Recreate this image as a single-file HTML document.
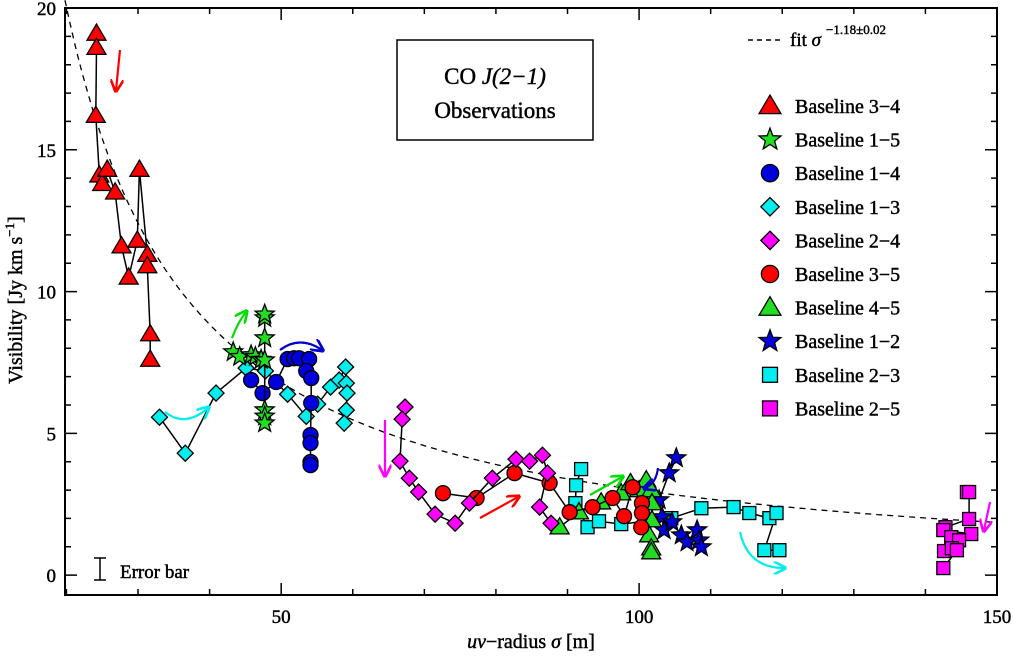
<!DOCTYPE html>
<html><head><meta charset="utf-8"><style>
body{margin:0;background:#fff}
svg{display:block;font-family:"Liberation Serif",serif}
.tx{stroke:#000;stroke-width:0.45}
</style></head><body>
<svg id="chart" width="1014" height="656" viewBox="0 0 1014 656">
<defs>
<marker id="ah" viewBox="0 0 10 10" refX="8" refY="5" markerWidth="6" markerHeight="6" orient="auto-start-reverse"><path d="M0,0 L10,5 L0,10" fill="none" stroke="context-stroke" stroke-width="2"/></marker>
</defs>
<g id="marks"></g>
<rect x="65" y="8" width="932" height="587" fill="none" stroke="#000" stroke-width="2"/>
<g id="axes" class="tx"></g>
<g>
<rect x="397" y="40" width="196" height="100" fill="#fff" stroke="#000" stroke-width="1.5"/>
<text class="tx" x="495" y="84" text-anchor="middle" font-size="23">CO <tspan font-style="italic">J(2−1)</tspan></text>
<text class="tx" x="495" y="118" text-anchor="middle" font-size="23">Observations</text>
</g>
<g>
<line x1="748" y1="40" x2="782" y2="40" stroke="#000" stroke-width="1.5" stroke-dasharray="5,4"/>
<text class="tx" x="790" y="46" font-size="19">fit <tspan font-style="italic">σ</tspan></text>
<text class="tx" x="826" y="34" font-size="13">−1.18±0.02</text>
</g>
<g>
<line x1="100" y1="558" x2="100" y2="580" stroke="#000" stroke-width="1.5"/>
<line x1="94" y1="558" x2="106" y2="558" stroke="#000" stroke-width="1.5"/>
<line x1="94" y1="580" x2="106" y2="580" stroke="#000" stroke-width="1.5"/>
<text class="tx" x="120" y="578" font-size="19">Error bar</text>
</g>
<text class="tx" x="531" y="648" text-anchor="middle" font-size="20"><tspan font-style="italic">uv</tspan>−radius <tspan font-style="italic">σ</tspan> [m]</text>
<text class="tx" transform="translate(22,300) rotate(-90)" text-anchor="middle" font-size="20">Visibility [Jy km s<tspan font-size="13" dy="-8">−1</tspan><tspan dy="8">]</tspan></text>
<g id="legend"></g>
<g fill="none" stroke-width="2.2">
<path d="M120,50 L116,90" stroke="#f00" marker-end="url(#ah)"/>
<path d="M232,338 Q238,322 246,312" stroke="#0d0" marker-end="url(#ah)"/>
<path d="M280,350 Q300,335 322,350" stroke="#00c" marker-end="url(#ah)"/>
<path d="M165,412 Q185,428 208,408" stroke="#0ee" marker-end="url(#ah)"/>
<path d="M385,420 L385,475" stroke="#f0f" marker-end="url(#ah)"/>
<path d="M480,518 L518,497" stroke="#f00" marker-end="url(#ah)"/>
<path d="M590,495 L622,477" stroke="#0d0" marker-end="url(#ah)"/>
<path d="M658,468 Q656,484 645,488" stroke="#00c" marker-end="url(#ah)"/>
<path d="M740,532 Q748,568 784,568" stroke="#0ee" marker-end="url(#ah)"/>
<path d="M990,502 L984,530" stroke="#f0f" marker-end="url(#ah)"/>
</g>
</svg>
<script>
const xTicks=[50,100,150];
const yTicks=[0,5,10,15,20];
const fitA=687, fitExp=-1.18;
const names=["Baseline 3−4","Baseline 1−5","Baseline 1−4","Baseline 1−3","Baseline 2−4","Baseline 3−5","Baseline 4−5","Baseline 1−2","Baseline 2−3","Baseline 2−5"];
const colors=["#f00","#2d2","#00d","#0ee","#f0f","#f00","#2d2","#00d","#0ee","#f0f"];
const shapes=["tri","star","circ","diam","diam","circ","tri","star","sq","sq"];
const b34x=[24.2,24.2,24.1,24.6,25.0,25.7,26.8,27.7,28.7,29.9,30.2,31.3,31.3,31.7,31.7];
const b34y=[19.1,18.6,16.2,14.1,13.8,14.3,13.5,11.6,10.5,11.8,14.3,11.3,10.9,8.5,7.6];
const b15x=[43.3,44.2,45.8,46.4,47.2,47.7,47.7,47.7,47.7,47.7,47.7,47.7];
const b15y=[7.87,7.7,7.76,7.7,7.6,7.58,8.36,9.07,9.2,5.82,5.6,5.36];
const b14x=[45.8,47.4,49.3,50.9,51.8,52.5,53.9,53.5,54.2,54.2,54.1,54.1,54.1,54.1];
const b14y=[6.88,6.42,6.81,7.62,7.65,7.65,7.62,7.2,6.95,6.07,4.94,4.66,3.99,3.88];
const b13x=[33.0,36.6,40.9,45.1,47.8,50.9,53.5,55.1,56.9,58.1,59.0,59.1,59.2,59.1,58.8];
const b13y=[5.57,4.3,6.42,7.3,7.2,6.38,5.6,6.03,6.63,6.88,7.34,6.77,6.42,5.82,5.36];
const b24x=[67.3,66.9,66.6,67.9,69.2,71.5,74.3,76.3,79.5,82.8,84.7,86.5,87.2,86.1,87.7];
const b24y=[5.93,5.5,4.02,3.42,2.93,2.15,1.83,2.54,3.42,4.09,4.02,4.23,3.6,2.4,1.83];
const b35x=[72.6,77.3,82.6,87.5,90.3,93.5,96.3,97.9,99.1,100.4,100.4,100.3];
const b35y=[2.89,2.72,3.6,3.25,2.22,2.4,2.72,2.08,3.1,2.54,2.19,1.69];
const b45x=[88.9,91.6,94.7,97.5,98.8,100.0,101.0,101.7,101.8,101.8,101.4,101.7,101.7];
const b45y=[1.69,2.22,2.57,2.89,3.25,3.0,3.35,3.0,2.54,1.94,1.41,0.95,0.81];
const b12x=[105.2,104.2,102.8,103.2,103.5,104.6,105.9,106.7,108.1,108.4,108.7];
const b12y=[4.13,3.6,2.65,2.05,1.59,1.87,1.41,1.16,1.59,1.23,0.99];
const b23x=[91.9,91.2,91.1,92.8,94.4,97.5,104.5,108.7,113.2,115.4,118.2,119.2,117.5,119.6];
const b23y=[3.74,3.17,2.54,1.69,1.9,1.8,2.01,2.36,2.4,2.19,2.01,2.19,0.88,0.88];
const b25x=[145.8,146.1,146.1,142.8,142.5,146.4,143.6,144.7,142.6,143.7,144.4,142.5];
const b25y=[2.93,2.93,1.98,1.69,1.59,1.45,1.34,1.23,0.85,0.95,0.88,0.25];
const seriesX=[b34x,b15x,b14x,b13x,b24x,b35x,b45x,b12x,b23x,b25x];
const seriesY=[b34y,b15y,b14y,b13y,b24y,b35y,b45y,b12y,b23y,b25y];

const X0=19.8,X1=150,Y0=-0.7,Y1=20,L=65,R=997,T=8,B=595;
function sx(v){return L+(v-X0)/(X1-X0)*(R-L);}
function sy(v){return B-(v-Y0)/(Y1-Y0)*(B-T);}
const NS="http://www.w3.org/2000/svg";
function mk(tag,attrs,parent){const e=document.createElementNS(NS,tag);for(const k in attrs)e.setAttribute(k,attrs[k]);parent.appendChild(e);return e;}
const axes=document.getElementById('axes');
for(let v=20;v<=150;v+=10){const big=v%50===0;const x=sx(v);const len=big?12:6;
 const t=mk('path',{d:`M${x},${B}v${-len}M${x},${T}v${len}`,stroke:'#000','stroke-width':1.5},axes);
 
 }
xTicks.forEach(v=>{const t=mk('text',{x:sx(v),y:623,'text-anchor':'middle','font-size':19},axes);t.textContent=v;
 
 });
for(let v=0;v<=20;v+=1){const big=v%5===0;const y=sy(v);const len=big?12:6;
 const t=mk('path',{d:`M${L},${y}h${len}M${R},${y}h${-len}`,stroke:'#000','stroke-width':1.5},axes);
 
 }
yTicks.forEach(v=>{const t=mk('text',{x:56,y:sy(v)+7,'text-anchor':'end','font-size':19},axes);t.textContent=v;
 
 });

const marks=document.getElementById('marks');
let d='';for(let v=X0;v<=X1;v+=0.5){const y=fitA*Math.pow(v,fitExp);d+=(d?'L':'M')+sx(v).toFixed(1)+','+sy(y).toFixed(1);}
const fit=mk('path',{d:d,fill:'none',stroke:'#000','stroke-width':1.3,'stroke-dasharray':'6,5'},marks);



function shape(kind,cx,cy,col,parent,s){
 let e;s=s||1;
 if(kind==='tri'){const r=9.5*s;e=mk('path',{d:`M${cx},${cy-r}L${cx+r},${cy+r*0.7}L${cx-r},${cy+r*0.7}Z`},parent);}
 else if(kind==='circ'){e=mk('circle',{cx:cx,cy:cy,r:7.5*s},parent);}
 else if(kind==='diam'){const r=8*s;e=mk('path',{d:`M${cx},${cy-r}L${cx+r},${cy}L${cx},${cy+r}L${cx-r},${cy}Z`},parent);}
 else if(kind==='sq'){const r=6.5*s;e=mk('rect',{x:cx-r,y:cy-r,width:2*r,height:2*r},parent);}
 else {let p='';for(let i=0;i<10;i++){const r=(i%2?4.2:10)*s;const a=-Math.PI/2+i*Math.PI/5;p+=(i?'L':'M')+(cx+r*Math.cos(a)).toFixed(1)+','+(cy+r*Math.sin(a)).toFixed(1);}e=mk('path',{d:p+'Z'},parent);}
 e.setAttribute('fill',col);e.setAttribute('stroke','#000');e.setAttribute('stroke-width',1.3);
 return e;}

for(let s=seriesX.length-1;s>=0;s--){
 const g=mk('g',{},marks);
 
 
 const xs=seriesX[s],ys=seriesY[s];
 let p='';xs.forEach((v,i)=>{p+=(i?'L':'M')+sx(v).toFixed(1)+','+sy(ys[i]).toFixed(1);});
 const ln=mk('path',{d:p,fill:'none',stroke:'#000','stroke-width':1.5},g);
 
 
 xs.forEach((v,i)=>{const m=shape(shapes[s],sx(v),sy(ys[i]),colors[s],g);
  
  });
}
const leg=document.getElementById('legend');
names.forEach((n,i)=>{const y=106+i*33.6;
 const g=mk('g',{},leg);
 
 
 shape(shapes[i],770,y,colors[i],g,1.15);
 const t=mk('text',{x:795,y:y+7,'font-size':20,'class':'tx'},g);t.textContent=n;});
</script>
</body></html>
